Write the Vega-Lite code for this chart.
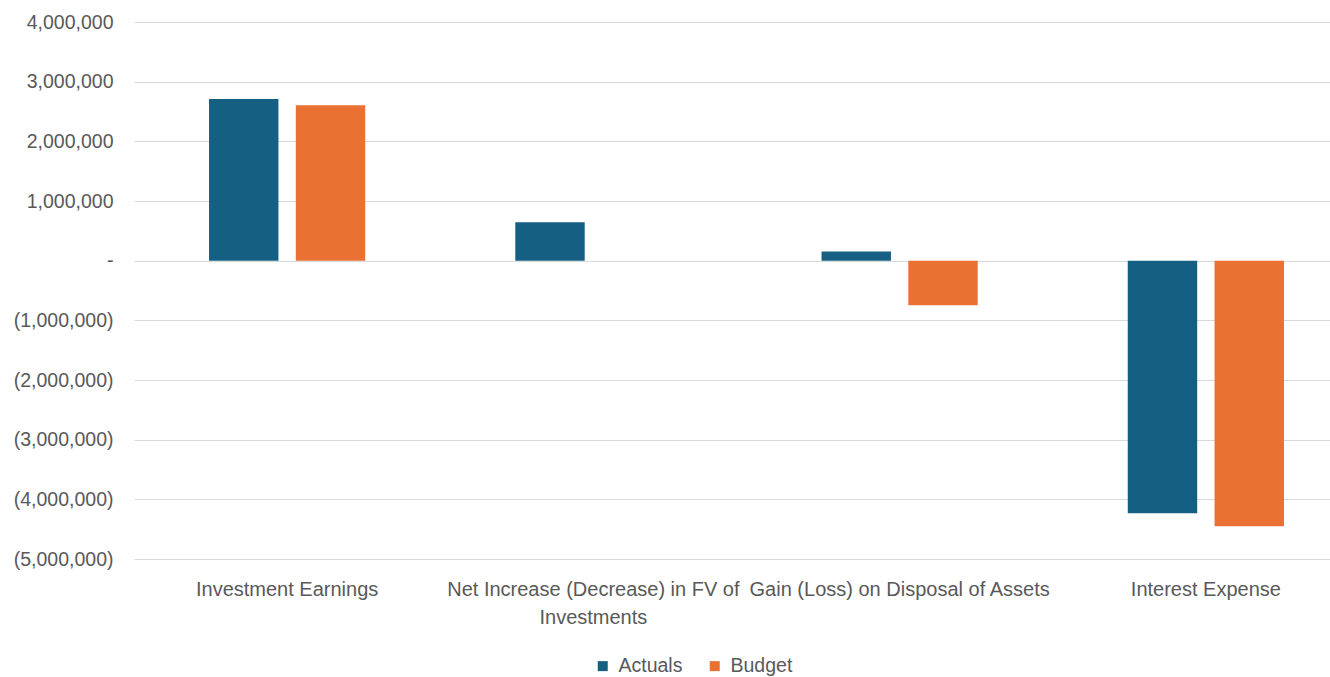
{
  "$schema": "https://vega.github.io/schema/vega-lite/v6.json",
  "width": 1225,
  "height": 537,
  "padding": {"left": 134, "top": 22, "right": 0, "bottom": 118},
  "autosize": {"type": "none"},
  "background": "white",
  "config": {
    "view": {"stroke": null},
    "font": "Liberation Sans",
    "axis": {"labelColor": "#595959", "labelFont": "Liberation Sans"}
  },
  "data": {
    "values": [
      {"category": "Investment Earnings", "series": "Actuals", "value": 2710000},
      {"category": "Investment Earnings", "series": "Budget", "value": 2605000},
      {"category": "Net Increase (Decrease) in FV of Investments", "series": "Actuals", "value": 645000},
      {"category": "Net Increase (Decrease) in FV of Investments", "series": "Budget", "value": 0},
      {"category": "Gain (Loss) on Disposal of Assets", "series": "Actuals", "value": 155000},
      {"category": "Gain (Loss) on Disposal of Assets", "series": "Budget", "value": -748000},
      {"category": "Interest Expense", "series": "Actuals", "value": -4235000},
      {"category": "Interest Expense", "series": "Budget", "value": -4450000}
    ]
  },
  "mark": {"type": "bar", "clip": false},
  "encoding": {
    "x": {
      "field": "category",
      "type": "nominal",
      "sort": null,
      "scale": {"paddingInner": 0.49, "paddingOuter": 0.245},
      "axis": {
        "title": null,
        "labelAngle": 0,
        "ticks": false,
        "domain": false,
        "labelFontSize": 20,
        "labelPadding": 20,
        "labelLineHeight": 28,
        "labelLimit": 400,
        "labelExpr": "datum.label == 'Net Increase (Decrease) in FV of Investments' ? ['Net Increase (Decrease) in FV of', 'Investments'] : datum.label"
      }
    },
    "xOffset": {
      "field": "series",
      "type": "nominal",
      "scale": {"paddingInner": 0.2, "paddingOuter": 0}
    },
    "y": {
      "field": "value",
      "type": "quantitative",
      "scale": {"domain": [-5000000, 4000000], "nice": false, "zero": true},
      "axis": {
        "title": null,
        "values": [-5000000, -4000000, -3000000, -2000000, -1000000, 0, 1000000, 2000000, 3000000, 4000000],
        "ticks": false,
        "domain": false,
        "grid": true,
        "gridColor": "#d9d9d9",
        "gridWidth": 1,
        "labelFontSize": 19.5,
        "labelPadding": 21,
        "labelExpr": "datum.value == 0 ? '-\u00a0\u00a0\u00a0' : datum.value < 0 ? '(' + format(-datum.value, ',') + ')' : format(datum.value, ',') + '\u00a0'"
      }
    },
    "color": {
      "field": "series",
      "type": "nominal",
      "scale": {"domain": ["Actuals", "Budget"], "range": ["#156082", "#E97132"]},
      "legend": {
        "title": null,
        "orient": "none",
        "direction": "horizontal",
        "legendX": 459,
        "legendY": 634,
        "symbolType": "square",
        "symbolSize": 100,
        "symbolStrokeWidth": 0,
        "symbolOpacity": 1,
        "labelFontSize": 19.5,
        "labelColor": "#595959",
        "labelOffset": 6,
        "columnPadding": 22,
        "padding": 0
      }
    }
  }
}
